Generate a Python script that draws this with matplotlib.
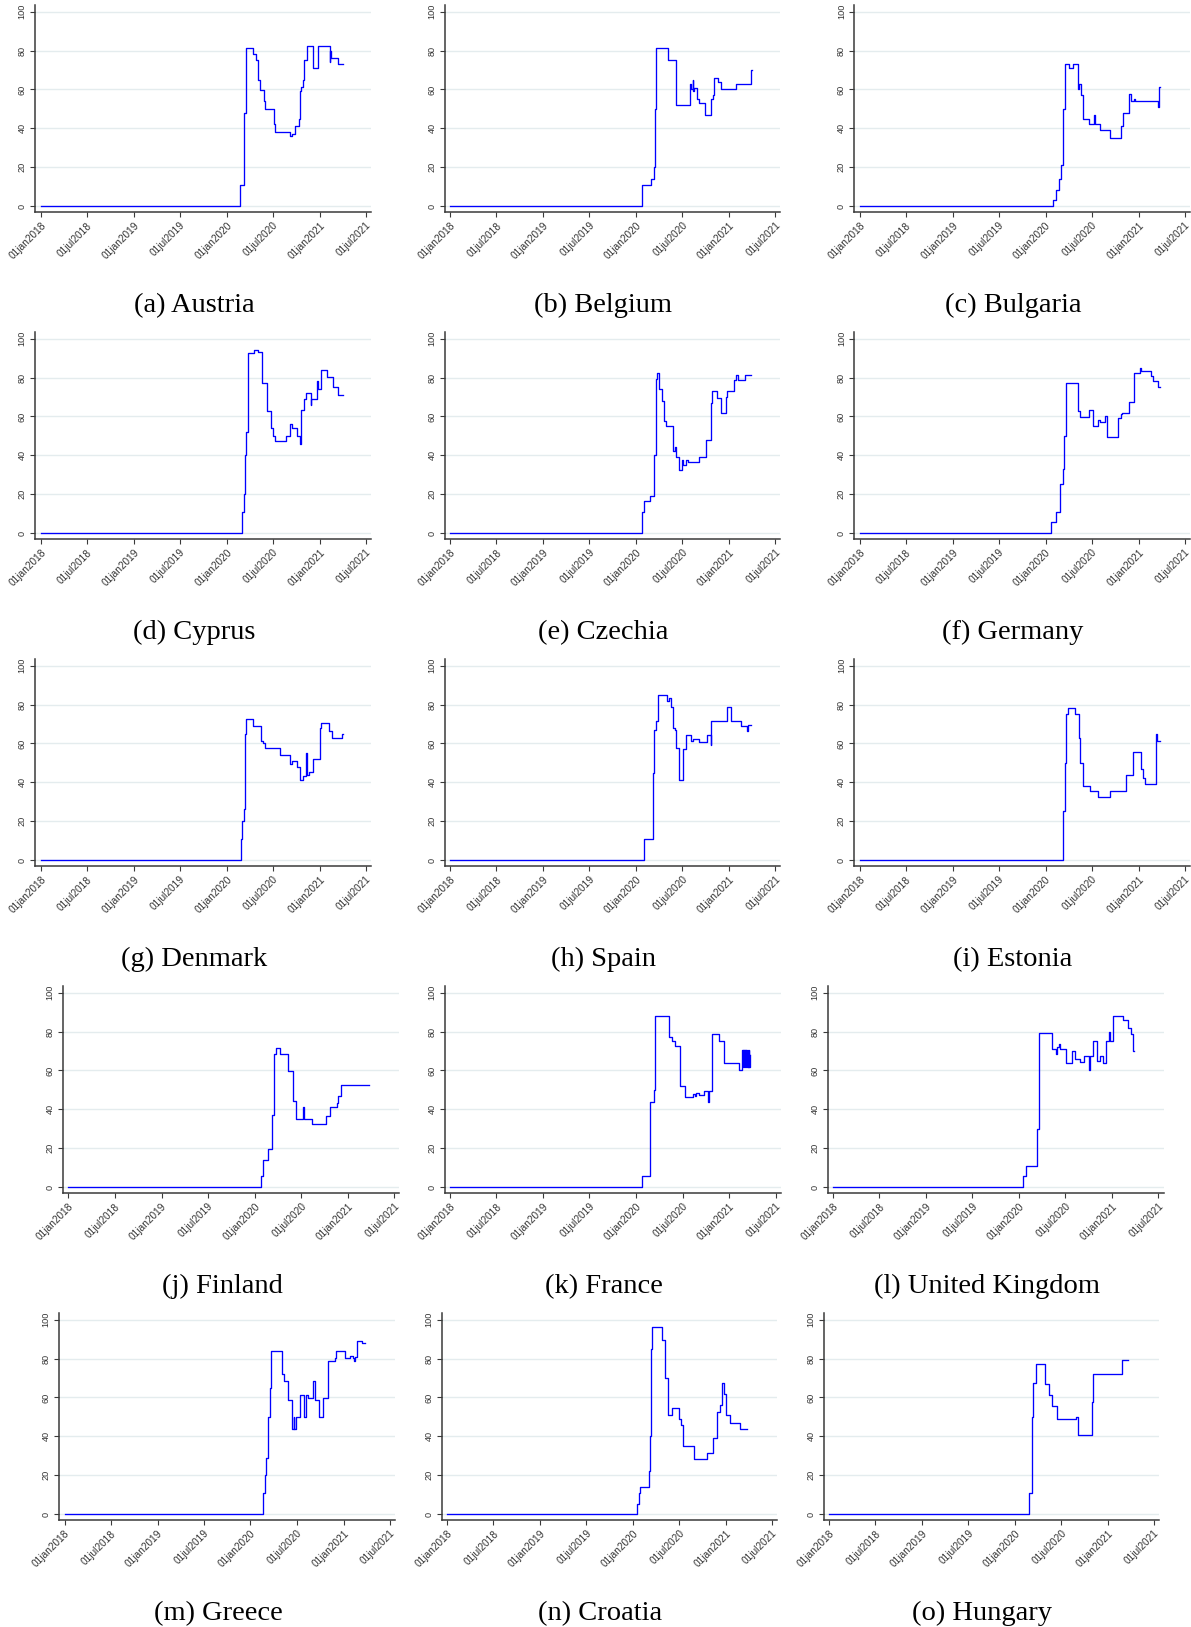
import numpy as np
import matplotlib
matplotlib.use("Agg")
import matplotlib.pyplot as plt

# ---------------- data (days since 01jan2020, index value) ----------------
letters = ["a", "b", "c", "d", "e", "f", "g", "h", "i", "j", "k", "l", "m", "n", "o"]
countries = ["Austria", "Belgium", "Bulgaria", "Cyprus", "Czechia", "Germany",
             "Denmark", "Spain", "Estonia", "Finland", "France", "United Kingdom",
             "Greece", "Croatia", "Hungary"]

austria_days = [-730, 52, 69, 74, 102, 114, 122, 129, 146, 151, 184, 191, 248, 258, 268, 285, 288, 293, 298, 303, 317, 337, 357, 404, 407, 409, 436, 456]
austria_vals = [0, 11, 48, 81.5, 78, 75, 65, 59.5, 54, 50, 42, 38, 36, 37, 41, 45, 59, 61, 65, 75, 82.5, 71, 82.5, 74, 80, 76, 73, 73]

belgium_days = [-730, 25, 60, 69, 74, 79, 126, 159, 211, 216, 223, 226, 228, 238, 246, 273, 295, 303, 308, 322, 335, 392, 454, 456]
belgium_vals = [0, 11, 14, 20, 50, 81.5, 75, 52, 63, 60, 65, 59, 60.5, 55, 53, 47, 55, 57, 66, 64, 60, 63, 70, 70]

bulgaria_days = [-730, 30, 40, 52, 62, 69, 77, 94, 107, 126, 131, 141, 146, 169, 191, 193, 213, 255, 298, 303, 330, 335, 347, 352, 441, 446, 451]
bulgaria_vals = [0, 3, 8, 14, 21, 50, 73, 71, 73, 60, 63, 57, 45, 42, 47, 42, 39, 35, 41, 48, 57.5, 54, 55, 54, 51, 61, 61]

cyprus_days = [-730, 62, 67, 72, 74, 82, 107, 124, 139, 159, 174, 181, 191, 231, 248, 258, 278, 288, 293, 303, 312, 330, 332, 355, 357, 372, 392, 419, 436, 456]
cyprus_vals = [0, 11, 20, 40, 52, 92.5, 94, 93, 77, 63, 54, 50, 47.5, 50, 56, 54, 50, 46, 63.5, 69, 72, 66, 69, 78, 74, 84, 80.5, 75, 71, 71]

czechia_days = [-730, 22, 30, 55, 72, 77, 82, 92, 104, 112, 117, 146, 154, 156, 169, 181, 184, 198, 206, 248, 275, 295, 298, 318, 335, 352, 357, 387, 394, 402, 429, 454]
czechia_vals = [0, 11, 16.5, 19, 40, 79.5, 82.5, 74, 68, 57.5, 55, 42, 44.5, 39, 32.5, 37.5, 35, 37.5, 36.3, 39, 48, 67, 73, 69.5, 62, 70, 73, 78.5, 81.5, 78.5, 81.5, 81.5]

germany_days = [-730, 22, 42, 57, 67, 72, 79, 126, 129, 136, 169, 188, 208, 213, 233, 243, 285, 295, 300, 330, 347, 370, 374, 414, 422, 441, 451]
germany_vals = [0, 5.5, 11, 25, 33, 50, 77, 65, 63, 59.5, 63.5, 55, 58, 57, 60, 49.5, 59, 61, 62, 67.5, 82.5, 85, 83.5, 81, 78, 75, 75]

denmark_days = [-730, 57, 62, 67, 72, 77, 102, 136, 141, 149, 211, 250, 258, 275, 288, 298, 310, 317, 322, 337, 367, 372, 402, 412, 454, 456]
denmark_vals = [0, 11, 20, 26, 65, 72.5, 69, 61, 60, 57.5, 54, 49.5, 51, 48, 41, 43, 55, 43.5, 45.5, 52, 68, 70.5, 66.5, 63, 65, 65]

spain_days = [-730, 32, 67, 72, 77, 87, 122, 131, 136, 146, 154, 159, 171, 184, 196, 218, 223, 248, 278, 293, 295, 357, 372, 414, 436, 441, 454]
spain_vals = [0, 11, 45, 67, 71.5, 85, 82, 83.5, 79, 68, 67, 57.5, 41, 57, 64.5, 61, 62.5, 60.5, 64.5, 59, 71.5, 79, 71.5, 69, 66.5, 69.5, 69.5]

estonia_days = [-730, 69, 77, 82, 87, 117, 131, 136, 149, 176, 206, 255, 315, 345, 377, 384, 392, 434, 439, 451]
estonia_vals = [0, 25, 50, 75, 78, 75, 63, 50, 38, 35.5, 32.5, 35.5, 43.5, 55.5, 47, 42, 39, 65, 61, 61]

finland_days = [-730, 24, 33, 51, 69, 75, 83, 101, 131, 149, 164, 188, 194, 224, 280, 295, 322, 328, 340, 450]
finland_vals = [0, 5.5, 14, 19.5, 37, 68.5, 71.5, 68.5, 59.5, 44.5, 35, 41, 35, 32.5, 36.5, 41, 43, 47, 52.5, 52.5]

france_days = [-730, 21, 54, 69, 75, 128, 140, 152, 170, 191, 221, 229, 236, 247, 268, 280, 286, 298, 325, 346, 402,
               417, 419, 421, 423, 425, 427, 429, 431, 433, 435, 437, 439, 441, 443, 445, 447]
france_vals = [0, 5.5, 44, 50, 88, 77, 75, 72.5, 52, 46.5, 48, 47, 48.5, 47.5, 49.5, 44, 49.5, 79, 75, 64, 60,
               70.5, 62, 70.5, 62, 70.5, 62, 70.5, 62, 70.5, 62, 70.5, 62, 70.5, 62, 68, 68]

uk_days = [-730, 15, 27, 72, 77, 128, 146, 149, 155, 161, 185, 209, 221, 238, 256, 274, 280, 289, 304, 319, 331, 343, 352, 358, 367, 408, 426, 438, 447, 450]
uk_vals = [0, 5.5, 11, 30, 79.5, 71, 68.5, 72, 73.5, 71, 64, 70, 66, 64.5, 67.5, 60, 67.5, 75, 65, 67.5, 64, 75, 80, 75, 88, 86, 82, 78.5, 70, 70]

greece_days = [-730, 51, 57, 63, 69, 75, 80, 125, 131, 149, 164, 170, 173, 179, 194, 209, 218, 226, 247, 253, 271, 286, 304, 331, 337, 373, 390, 402, 408, 411, 420, 438, 450]
greece_vals = [0, 11, 20, 29, 50, 65, 84, 72, 68.5, 58.5, 44, 50, 44, 50, 61, 50, 61, 59.5, 68.5, 58.5, 50, 59.5, 79, 80.5, 84, 80.5, 81.5, 80.5, 78.5, 81, 89, 88, 88]

croatia_days = [-730, 18, 24, 30, 63, 66, 72, 77, 113, 128, 140, 155, 182, 191, 197, 241, 292, 316, 331, 343, 352, 358, 367, 384, 420, 450]
croatia_vals = [0, 5, 11, 14, 22, 40, 85, 96, 89.5, 70, 51, 54.5, 49, 46, 35, 28.5, 31.5, 39, 52.5, 56, 67.5, 62, 51, 47, 43.5, 43.5]

hungary_days = [-730, 57, 66, 72, 83, 119, 134, 146, 164, 241, 247, 304, 307, 423, 447]
hungary_vals = [0, 11, 50, 67.5, 77, 67, 61, 55.5, 49, 50, 40.5, 57.5, 72, 79.5, 79.5]

series_days = [austria_days, belgium_days, bulgaria_days, cyprus_days, czechia_days, germany_days,
               denmark_days, spain_days, estonia_days, finland_days, france_days, uk_days,
               greece_days, croatia_days, hungary_days]
series_vals = [austria_vals, belgium_vals, bulgaria_vals, cyprus_vals, czechia_vals, germany_vals,
               denmark_vals, spain_vals, estonia_vals, finland_vals, france_vals, uk_vals,
               greece_vals, croatia_vals, hungary_vals]

tick_dates = ["2018-01-01", "2018-07-01", "2019-01-01", "2019-07-01",
              "2020-01-01", "2020-07-01", "2021-01-01", "2021-07-01"]
tick_labels = ["01jan2018", "01jul2018", "01jan2019", "01jul2019",
               "01jan2020", "01jul2020", "01jan2021", "01jul2021"]
y_ticks = [0, 20, 40, 60, 80, 100]

# ---------------- layout (pixels) ----------------
W, H = 1191, 1627
col_lr = [
    [(35.1, 371.1), (444.7, 780.2), (854.2, 1189.8)],
    [(35.1, 371.1), (444.7, 780.2), (854.2, 1189.8)],
    [(35.1, 371.1), (444.7, 780.2), (854.2, 1189.8)],
    [(62.8, 399.3), (444.8, 780.6), (827.7, 1163.5)],
    [(59.0, 394.8), (441.8, 776.9), (823.9, 1158.9)],
]
row_top0, row_bot0, row_step = 5.3, 212.0, 327.0
caption_base0 = 311.7

fig = plt.figure(figsize=(W / 100, H / 100), dpi=100)
fig.patch.set_facecolor("white")

base = np.datetime64("2020-01-01")
xmin = np.datetime64("2018-01-01") - np.timedelta64(22, "D")
xmax = np.datetime64("2021-07-01") + np.timedelta64(20, "D")
tdates = [np.datetime64(d) for d in tick_dates]

axis_col = "#3a3a3a"
grid_col = "#e4ecee"

for i in range(15):
    r, c = divmod(i, 3)
    left, right = col_lr[r][c]
    top = row_top0 + r * row_step
    bot = row_bot0 + r * row_step
    ax = fig.add_axes([left / W, 1 - bot / H, (right - left) / W, (bot - top) / H])
    d = base + np.array(series_days[i], dtype="timedelta64[D]")
    ax.plot(d, series_vals[i], drawstyle="steps-post", color="#0000ff", lw=0.95, zorder=3)
    ax.set_xlim(xmin, xmax)
    ax.set_ylim(-3.1, 103.3)
    ax.set_yticks(y_ticks)
    ax.set_yticklabels([str(v) for v in y_ticks], rotation=90, va="center",
                       fontsize=6.6, family="Liberation Sans", color="#333333")
    ax.set_xticks(tdates)
    ax.set_xticklabels(tick_labels, rotation=45, ha="right", va="top",
                       rotation_mode="anchor", fontsize=7.3,
                       family="Liberation Sans", color="#333333")
    ax.yaxis.grid(True, color=grid_col, lw=1.0)
    ax.set_axisbelow(True)
    for s in ["top", "right"]:
        ax.spines[s].set_visible(False)
    for s in ["left", "bottom"]:
        ax.spines[s].set_color(axis_col)
        ax.spines[s].set_linewidth(1.1)
    ax.tick_params(axis="both", direction="out", length=3.5, width=0.8,
                   color=axis_col, pad=2.5)
    ax.set_facecolor("white")

    cx = (left + right) / 2 - 9
    fig.text(cx / W, 1 - (caption_base0 + r * row_step) / H,
             f"({letters[i]}) {countries[i]}", ha="center", va="baseline",
             fontsize=20.5, family="Liberation Serif", color="black")

fig.savefig("out.png", dpi=100, facecolor="white")
